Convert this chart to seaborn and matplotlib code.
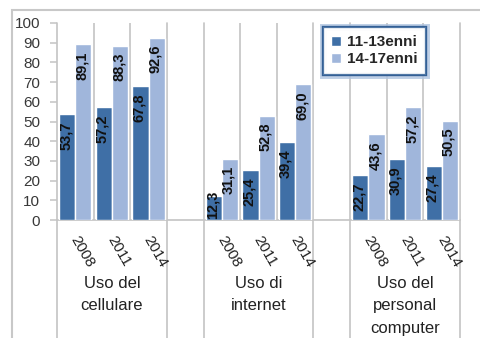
import matplotlib
matplotlib.use('Agg')
import matplotlib.pyplot as plt
import matplotlib.patheffects as pe
from matplotlib.patches import Rectangle
import seaborn as sns
import pandas as pd

categories = ['Uso del\ncellulare', 'Uso di\ninternet', 'Uso del\npersonal\ncomputer']
years = ['2008', '2011', '2014']
groups = ['11-13enni', '14-17enni']
vals_1113 = [53.7, 57.2, 67.8, 12.3, 25.4, 39.4, 22.7, 30.9, 27.4]
vals_1417 = [89.1, 88.3, 92.6, 31.1, 52.8, 69.0, 43.6, 57.2, 50.5]
yticks = list(range(0, 101, 10))
colors = ['#3F6FA6', '#A0B6DB']

rows = []
for ci in range(len(categories)):
    for yi, yr in enumerate(years):
        slot = f'{ci}-{yr}'
        rows.append((slot, groups[0], vals_1113[ci * 3 + yi]))
        rows.append((slot, groups[1], vals_1417[ci * 3 + yi]))
df = pd.DataFrame(rows, columns=['slot', 'group', 'value'])

order = []
for ci in range(len(categories)):
    order += [f'{ci}-{yr}' for yr in years]
    if ci < len(categories) - 1:
        order.append(f'gap{ci}')

sns.set_style('white')
plt.rcParams['font.family'] = ['Liberation Sans', 'DejaVu Sans']

W, H = 481, 338
fig = plt.figure(figsize=(W / 100, H / 100), dpi=100)
ax = fig.add_axes([57 / W, 118 / H, 403 / W, 197 / H])

sns.barplot(data=df, x='slot', y='value', hue='group', order=order,
            hue_order=groups, palette=colors, width=0.88, gap=0,
            saturation=1, errorbar=None, ax=ax, zorder=3)

ax.set_xlim(-0.5, len(order) - 0.5)
ax.set_ylim(0, 100)
ax.set_xlabel('')
ax.set_ylabel('')

grid_c = '#C4C4C4'
for s in ['top', 'right', 'left']:
    ax.spines[s].set_visible(False)
ax.spines['bottom'].set_color(grid_c)
ax.spines['bottom'].set_linewidth(1.2)

ax.set_yticks(yticks)
ax.set_yticklabels([str(t) for t in yticks])
ax.tick_params(axis='y', length=5, width=1.1, color=grid_c, pad=7,
               labelsize=11, labelcolor='#383838', left=True)
ax.set_xticks([])

# gridlines between slots
bounds = [i - 0.5 for i in range(len(order) + 1)]
cat_bounds = {-0.5, 2.5, 3.5, 6.5, 7.5, 10.5}
for b in bounds:
    if b in cat_bounds:
        ax.axvline(b, ymin=-0.62, ymax=1, color=grid_c, lw=1.2, clip_on=False, zorder=1)
    else:
        ax.axvline(b, ymin=0, ymax=1, color=grid_c, lw=1.2, zorder=1)

# value labels
all_vals = [vals_1113, vals_1417]
for cont, vals in zip(ax.containers, all_vals):
    for rect, v in zip(cont.patches, vals):
        txt = f'{v:.1f}'.replace('.', ',')
        xc = rect.get_x() + rect.get_width() / 2
        if v < 15:
            ax.annotate(txt, xy=(xc, 0), xytext=(-1, 1), textcoords='offset points',
                        ha='center', va='bottom', rotation=90, fontsize=10.5,
                        fontweight='bold', color='#111111', zorder=5)
        else:
            ax.annotate(txt, xy=(xc, rect.get_height()),
                        xytext=(-1, -5), textcoords='offset points',
                        ha='center', va='top', rotation=90, fontsize=10.5,
                        fontweight='bold', color='#111111', zorder=5)

# year labels
slot_pos = [i for i, o in enumerate(order) if not o.startswith('gap')]
for i in slot_pos:
    yr = order[i].split('-')[1]
    ax.annotate(yr, xy=(i, 0), xycoords=('data', 'axes fraction'),
                xytext=(-1, -12), textcoords='offset points',
                ha='left', va='center', rotation=-60, rotation_mode='anchor',
                fontsize=11, color='#222222')

# category labels
for ci, cat in enumerate(categories):
    center = ci * 4 + 1
    ax.annotate(cat, xy=(center, 0), xycoords=('data', 'axes fraction'),
                xytext=(0, -40), textcoords='offset points',
                ha='center', va='top', fontsize=12, color='#222222',
                linespacing=1.65)

# legend
handles, labels = ax.get_legend_handles_labels()
leg = ax.legend(handles, labels, loc='upper left',
                bbox_to_anchor=(323 / W, 1 - 27 / H), bbox_transform=fig.transFigure,
                frameon=True, fancybox=False, handlelength=0.6, handleheight=0.6,
                handletextpad=0.4, borderpad=0.55, labelspacing=0.2,
                prop={'weight': 'bold', 'size': 11}, borderaxespad=0)
frame = leg.get_frame()
frame.set_edgecolor('#2E5C93')
frame.set_linewidth(1.6)
frame.set_facecolor('white')
frame.set_path_effects([pe.withStroke(linewidth=5, foreground='#AFC4E0'), pe.Normal()])
leg.set_zorder(10)

# outer chart frame
fig.patches.append(Rectangle((12 / W, -0.1), 1.2, 1 - 10 / H + 0.1,
                             transform=fig.transFigure, fill=False,
                             edgecolor='#C8C8C8', lw=1.5, zorder=0))

fig.savefig('out.png', dpi=100, facecolor='white')
